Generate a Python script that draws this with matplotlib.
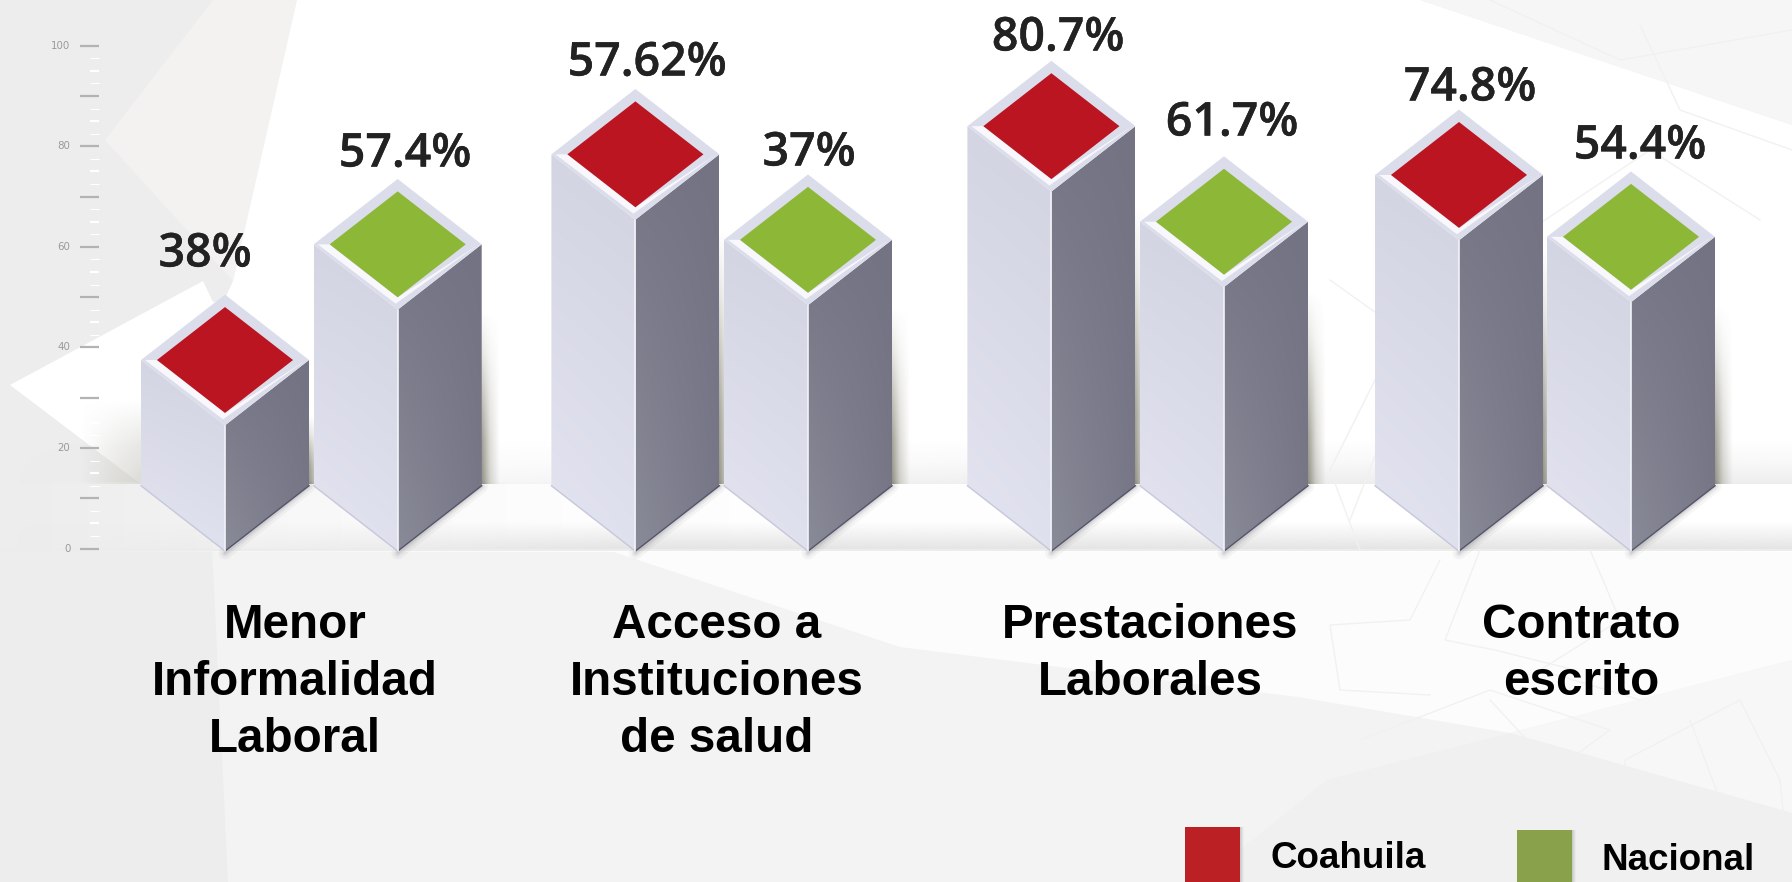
import numpy as np
import matplotlib
matplotlib.use("Agg")
import matplotlib.pyplot as plt
import matplotlib.patheffects as pe
from matplotlib.colors import to_rgb
from matplotlib.patches import Polygon

# chart values
categories = ["Menor\nInformalidad\nLaboral", "Acceso a\nInstituciones\nde salud",
              "Prestaciones\nLaborales", "Contrato\nescrito"]
series_names = ["Coahuila", "Nacional"]
# height of each column read against the printed 0-100 scale
coahuila_heights = [37.5, 78.4, 84.0, 74.3]
nacional_heights = [60.5, 61.4, 65.0, 62.0]
# what the picture prints above the columns
coahuila_labels = ["38%", "57.62%", "80.7%", "74.8%"]
nacional_labels = ["57.4%", "37%", "61.7%", "54.4%"]
axis_ticks = [0, 20, 40, 60, 80, 100]

# layout, in pixels of the 1792x882 canvas
W, H = 1792, 882
Y0_PX, PX_PER_UNIT = 548.6, 5.029
COAHUILA_X = [225, 635.4, 1051.4, 1459]
NACIONAL_X = [397.7, 808, 1224, 1631]
COAHUILA_LABEL_POS = [(205, 254), (647, 63), (1058, 38), (1470, 88)]
NACIONAL_LABEL_POS = [(405, 154), (809, 153), (1232, 123), (1640, 146)]
CATEGORY_X = [295, 716.6, 1150, 1581]
HW, DV = 84, 13.0
RED, GREEN = "#bb1521", "#8db737"


def v(py):
    return (Y0_PX - py) / PX_PER_UNIT


def gradient(ax, verts, corners, zorder):
    """Fill a polygon with a bilinear blend of four corner colours (tl, tr, bl, br)."""
    tl, tr, bl, br = [np.array(to_rgb(c)) for c in corners]
    u = np.linspace(0, 1, 48)[None, :, None]
    w = np.linspace(0, 1, 96)[:, None, None]
    img = (1 - w) * ((1 - u) * tl + u * tr) + w * ((1 - u) * bl + u * br)
    xs, ys = zip(*verts)
    patch = Polygon(verts, closed=True, fc="none", ec="none", transform=ax.transData)
    ax.add_patch(patch)
    im = ax.imshow(img, extent=[min(xs), max(xs), min(ys), max(ys)], aspect="auto",
                   origin="upper", interpolation="bilinear", zorder=zorder)
    im.set_clip_path(patch)


def soft(ax, x0, x1, y0, y1, color, ax_alpha, ay_alpha, zorder):
    """Soft transparent rectangle, alpha is the product of two 1-D ramps."""
    a = np.outer(np.interp(np.linspace(0, 1, 64), np.linspace(0, 1, len(ay_alpha)), ay_alpha),
                 np.interp(np.linspace(0, 1, 64), np.linspace(0, 1, len(ax_alpha)), ax_alpha))
    img = np.zeros((64, 64, 4))
    img[..., :3] = to_rgb(color)
    img[..., 3] = a
    ax.imshow(img, extent=[x0, x1, v(y1), v(y0)], aspect="auto", origin="upper",
              interpolation="bilinear", zorder=zorder)


def bg_poly(ax, pts, color, zorder=1, alpha=1.0):
    ax.add_patch(Polygon([(x, v(y)) for x, y in pts], closed=True, fc=color, ec="none",
                         alpha=alpha, zorder=zorder))


def draw_background(ax):
    ax.set_facecolor("#f3f3f3")
    # left grey block and the white wall
    bg_poly(ax, [(0, 0), (300, 0), (212, 548), (228, 882), (0, 882)], "#ededed")
    bg_poly(ax, [(213, 0), (297, 0), (233, 281), (105, 140)], "#f3f2f1", 2)
    bg_poly(ax, [(297, 0), (1420, 0), (1792, 125), (1792, 482), (140, 482), (233, 281)], "#ffffff", 2)
    bg_poly(ax, [(10, 385), (203, 281), (213, 302), (300, 300), (300, 482), (138, 482)], "#ffffff", 2)
    bg_poly(ax, [(1420, 0), (1792, 0), (1792, 125)], "#f6f6f6", 2)
    # grey fade over the lower part of the white wedge, behind the first column
    soft(ax, 80, 150, 400, 484, "#c6c5bd", [0, 0.4, 0.7], [0, 0.6, 1], 3)
    # white sweep under the floor
    bg_poly(ax, [(608, 550), (1792, 550), (1792, 660), (1510, 733), (1298, 697), (900, 647)], "#fcfcfc", 2)
    bg_poly(ax, [(1510, 733), (1792, 660), (1792, 813)], "#f7f7f7", 2)
    bg_poly(ax, [(1327, 780), (1510, 733), (1792, 813), (1792, 882), (1200, 882)], "#f0f0f0", 2)
    # floor
    soft(ax, 0, W, 482, 552, "#ffffff", [0, 0.9, 1, 1], [1, 1], 3)
    soft(ax, 0, W, 522, 550, "#e4e4e4", [0, 1, 1, 1], [0, 1], 3)
    soft(ax, 0, W, 440, 484, "#e6e6e6", [0, 0.6, 1, 1], [0, 0.25, 0.7], 3)
    ax.hlines(v(550), 0, W, color="#ececec", lw=1.5, zorder=3)
    # faint motif on the right
    motif = [
        [(1490, 0), (1620, 60), (1792, 30)],
        [(1640, 25), (1680, 110), (1792, 150)],
        [(1350, 520), (1440, 290), (1650, 150), (1760, 220)],
        [(1330, 280), (1400, 330), (1330, 470), (1360, 550)],
        [(1440, 560), (1410, 620), (1330, 625), (1340, 690), (1430, 695)],
        [(1360, 740), (1490, 690), (1610, 730), (1555, 770), (1490, 700)],
        [(1615, 900), (1625, 760), (1740, 700), (1780, 780), (1792, 900)],
        [(1590, 550), (1620, 620), (1540, 670), (1640, 700)],
        [(1690, 720), (1720, 800), (1792, 850)],
        [(1480, 550), (1445, 640), (1495, 650), (1575, 670)],
    ]
    for line in motif:
        xs, ys = zip(*line)
        ax.plot(xs, [v(y) for y in ys], color="#f1f1f1", lw=1.0, zorder=4)


def draw_scale(ax):
    major = np.arange(0, 101, 10)
    ax.hlines(major, 80, 98.5, color="#b3b3b3", lw=1.6, zorder=5)
    ax.hlines(np.arange(5, 100, 10), 90, 98.5, color="#ffffff", lw=1.6, zorder=5)
    ax.hlines(np.arange(2.5, 100, 5), 90, 98.5, color="#ffffff", lw=0.8, zorder=5)
    for t in axis_ticks:
        ax.text(70.5, t, str(t), ha="right", va="center", fontsize=7.4, color="#9a9a9a", zorder=5)


def draw_column(ax, fx, height, color, zorder):
    lx, rx = fx - HW, fx + HW
    # shadows first so the column sits on top
    soft(ax, rx - 2, rx + 18, Y0_PX - (height - 8) * PX_PER_UNIT * 0.9, 484, "#57543f",
         [0.7, 0.22, 0], [0, 0.25, 0.6, 0.9, 1], zorder)
    for lw, a in ((9, 0.05), (5, 0.08), (2, 0.12)):
        ax.plot([fx, rx], [-DV * 0.07, DV * 0.95], color="#50505c", lw=lw, alpha=a,
                solid_capstyle="round", zorder=zorder)
    front_top, top = height - DV, height
    gradient(ax, [(lx, top), (fx, front_top), (fx, -0.5), (lx, DV - 0.5)],
             ["#d4d5e2", "#d2d3e1", "#e4e5f1", "#e0e1ee"], zorder + 0.1)
    gradient(ax, [(fx, front_top), (rx, top), (rx, DV - 0.5), (fx, -0.5)],
             ["#757585", "#737384", "#8a8b98", "#777788"], zorder + 0.1)
    ax.plot([lx, fx], [DV - 0.5, -0.5], color="#c6c7da", lw=1.0, zorder=zorder + 0.2)
    ax.plot([fx, rx], [-0.5, DV - 0.5], color="#55556a", lw=1.0, zorder=zorder + 0.2)
    ax.plot([fx, fx], [-0.5, front_top], color="#f2f2f8", lw=1.2, zorder=zorder + 0.2)
    # top face
    ax.add_patch(Polygon([(lx, top), (fx, top + DV), (rx, top), (fx, front_top)], closed=True,
                         fc="#dcddeb", ec="none", zorder=zorder + 0.3))
    k = 0.81
    ax.add_patch(Polygon([(lx + 4, top), (fx - 2, front_top + 1.2), (rx - 3, top),
                          (fx, top - DV * k), (fx - HW * k, top)], closed=True,
                         fc="#f7f7fc", ec="none", zorder=zorder + 0.4))
    ax.add_patch(Polygon([(fx - HW * k, top), (fx, top + DV * k), (fx + HW * k, top), (fx, top - DV * k)],
                         closed=True, fc=color, ec="none", zorder=zorder + 0.5))


def main():
    fig = plt.figure(figsize=(W / 100, H / 100), dpi=100)
    ax = fig.add_axes([0, 0, 1, 1])
    draw_background(ax)
    draw_scale(ax)

    z = 6
    for i in range(4):
        draw_column(ax, COAHUILA_X[i], coahuila_heights[i], RED, z)
        draw_column(ax, NACIONAL_X[i], nacional_heights[i], GREEN, z + 1)
        z += 2

    value_font = dict(family="Open Sans", weight=600, fontsize=33.5, color="#222222",
                      ha="center", va="center", zorder=30,
                      path_effects=[pe.withStroke(linewidth=0.3, foreground="#222222")])
    for labels, pos in ((coahuila_labels, COAHUILA_LABEL_POS), (nacional_labels, NACIONAL_LABEL_POS)):
        for label, (x, y) in zip(labels, pos):
            ax.text(x, v(y), label, **value_font)

    for name, x in zip(categories, CATEGORY_X):
        for j, line in enumerate(name.split("\n")):
            ax.text(x, v(626 + 56.6 * j), line, family="Liberation Sans", weight="bold", fontsize=34.3,
                    color="black", ha="center", va="center", zorder=30)

    # legend, cut by the bottom of the canvas
    for name, color, x0, y0, tx, ty in ((series_names[0], "#bb2124", 1185, 827, 1270, 859),
                                        (series_names[1], "#8aa14b", 1517, 830, 1601, 861)):
        soft(ax, x0 + 55, x0 + 59, y0, H, "#999999", [0.5, 0], [1, 1], 20)
        ax.add_patch(Polygon([(x0, v(y0)), (x0 + 55, v(y0)), (x0 + 55, v(H)), (x0, v(H))],
                             closed=True, fc=color, ec="none", zorder=21))
        ax.text(tx, v(ty), name, family="Liberation Sans", weight="bold", fontsize=26.5,
                color="black", ha="left", va="center", zorder=30)

    ax.set_xlim(0, W)
    ax.set_ylim(v(H), v(0))
    ax.axis("off")
    ax.patch.set_visible(True)
    fig.patch.set_facecolor("#f3f3f3")
    fig.savefig("out.png", dpi=100, facecolor=fig.get_facecolor())


if __name__ == "__main__":
    main()
